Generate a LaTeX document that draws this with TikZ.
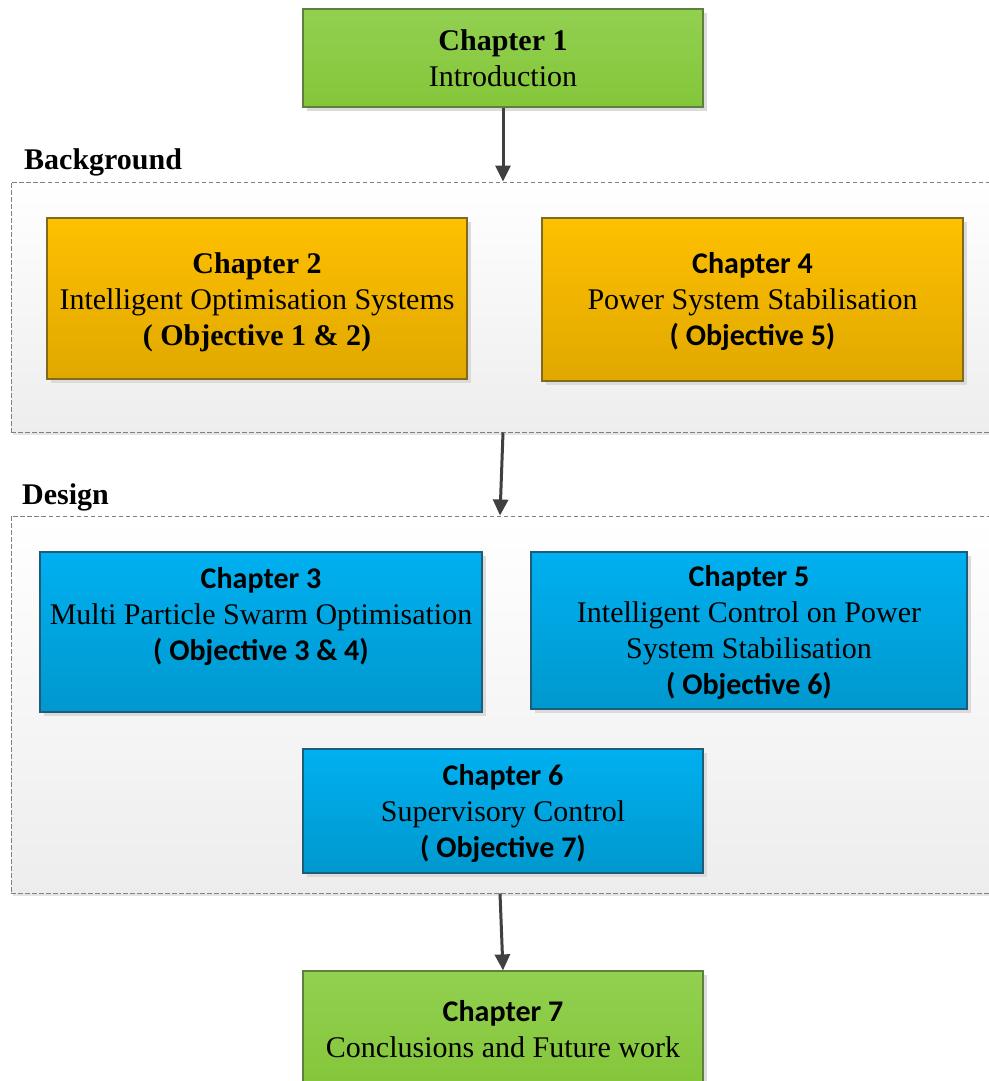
\documentclass[tikz,border=0pt]{standalone}
\usepackage{fontspec}
\setmainfont{Liberation Serif}
\newfontfamily\calib{Carlito}
\usetikzlibrary{arrows.meta,shadows}
\definecolor{grnT}{HTML}{92D050}
\definecolor{grnD}{HTML}{84C63A}
\definecolor{grnB}{HTML}{5F7F3F}
\definecolor{orT}{HTML}{FFC000}
\definecolor{orD}{HTML}{E0A800}
\definecolor{orB}{HTML}{7F6A1F}
\definecolor{blT}{HTML}{00B0F0}
\definecolor{blD}{HTML}{0098CE}
\definecolor{blB}{HTML}{1E5C7A}
\definecolor{arrC}{HTML}{404040}
\definecolor{dashC}{HTML}{808080}
\newcommand{\cb}[1]{{\calib\bfseries #1}}
\begin{document}
\begin{tikzpicture}[x=1pt,y=-1pt,
  every node/.style={font=\fontsize{30}{36}\selectfont, align=center},
  chbox/.style={rectangle, draw, line width=1.2pt, inner sep=0pt,
    drop shadow={shadow xshift=4pt, shadow yshift=-4pt, fill=black!14, opacity=1}},
  greenbox/.style={chbox, draw=grnB, top color=grnT, bottom color=grnD},
  orangebox/.style={chbox, draw=orB, top color=orT, bottom color=orD},
  bluebox/.style={chbox, draw=blB, top color=blT, bottom color=blD},
  container/.style={rectangle, draw=dashC, dash pattern=on 4.5pt off 2.5pt, line width=1pt,
    top color=white, bottom color=black!7, inner sep=0pt,
    drop shadow={shadow xshift=2pt, shadow yshift=-3pt, fill=black!10, opacity=1}},
  grouplabel/.style={font=\fontsize{30}{36}\selectfont\bfseries, anchor=west, inner sep=0pt},
  conn/.style={draw=arrC, line width=3pt, -{Triangle[length=16pt,width=15pt]}}
]
\useasboundingbox (0,0) rectangle (988,1081);
\fill[white] (0,0) rectangle (988,1081);

% containers
\node[container, minimum width=984pt, minimum height=250pt] (bg) at (503,307) {};
\node[container, minimum width=984pt, minimum height=377pt] (design) at (503,704.5) {};

\node[grouplabel] (bglabel) at (24,162) {Background};
\node[grouplabel] (dlabel) at (22,497) {Design};

% chapter boxes
\node[greenbox, minimum width=400pt, minimum height=98pt] (ch1) at (503,58)
  {\textbf{Chapter 1}\\Introduction};
\node[orangebox, minimum width=420pt, minimum height=161pt] (ch2) at (257,298.5) {};
\node (ch2t) at ([yshift=-3.5pt]ch2.center)
  {\textbf{Chapter 2}\\Intelligent Optimisation Systems\\\textbf{( Objective 1 \& 2)}};
\node[orangebox, minimum width=421pt, minimum height=163pt] (ch4) at (752.5,299.5) {};
\node (ch4t) at ([yshift=-2.5pt]ch4.center)
  {\cb{Chapter 4}\\Power System Stabilisation\\\cb{( Objective 5)}};
\node[bluebox, minimum width=442pt, minimum height=160pt] (ch3) at (261,632) {};
\node (ch3t) at (261,617)
  {\cb{Chapter 3}\\Multi Particle Swarm Optimisation\\\cb{( Objective 3 \& 4)}};
\node[bluebox, minimum width=436pt, minimum height=157pt] (ch5) at (749,630.5) {};
\node (ch5t) at ([yshift=-2.5pt]ch5.center)
  {\cb{Chapter 5}\\Intelligent Control on Power\\System Stabilisation\\\cb{( Objective 6)}};
\node[bluebox, minimum width=400pt, minimum height=124pt] (ch6) at (503,811) {};
\node (ch6t) at ([yshift=-2.5pt]ch6.center)
  {\cb{Chapter 6}\\Supervisory Control\\\cb{( Objective 7)}};
\node[greenbox, minimum width=400pt, minimum height=116pt] (ch7) at (503,1029)
  {\cb{Chapter 7}\\Conclusions and Future work};

% connectors
\draw[conn] (ch1.south) -- (ch1.south |- bg.north);
\draw[conn] (bg.south) -- ([xshift=-3pt]design.north);
\draw[conn] ([xshift=-3pt]design.south) -- (ch7.north);
\end{tikzpicture}
\end{document}
